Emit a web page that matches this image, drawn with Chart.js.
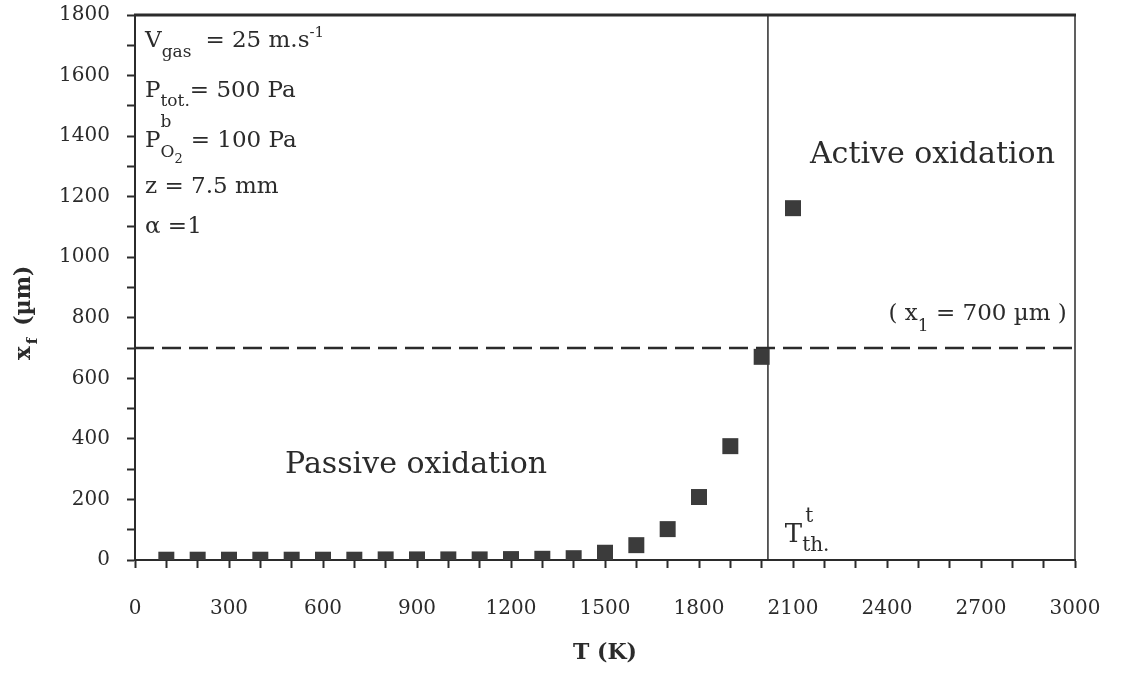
<!DOCTYPE html>
<html lang="en">
<head>
<meta charset="UTF-8">
<title>x_f vs T</title>
<script src="https://cdn.jsdelivr.net/npm/chart.js"></script>
<style>
    html, body { margin: 0; padding: 0; background: #fff; }
    .chart-box { width: 1121px; height: 673px; position: relative; }
</style>
</head>
<body>
<div class="chart-box"><canvas id="oxChart"></canvas></div>
<script>
// temperatures (K) and film thickness x_f (µm)
const temps = [100, 200, 300, 400, 500, 600, 700, 800, 900, 1000, 1100,
               1200, 1300, 1400, 1500, 1600, 1700, 1800, 1900, 2000, 2100];
const thickness = [1, 1, 1, 1, 1, 1, 1, 2, 2, 2, 2,
                   3, 4, 6, 24, 49, 102, 208, 376, 671, 1162];

const criticalX = 700;      // x_1 = 700 µm (dashed line)
const thresholdT = 2020;    // T_th (vertical line)

const xRange = [0, 3000];
const yRange = [0, 1800];
const xLabelEvery = 300;
const yLabelEvery = 200;

const INK = '#2b2b2b';
const SERIF = '"DejaVu Serif", "Liberation Serif", serif';

// draws text pieces one after another: {t, s, dy, dx, bold, adv}
function drawRuns(ctx, x, y, runs) {
    let cx = x;
    runs.forEach(r => {
        cx += r.dx || 0;
        ctx.font = (r.bold ? 'bold ' : '') + r.s + 'px ' + SERIF;
        ctx.fillText(r.t, cx, y + (r.dy || 0));
        if (r.adv !== false) cx += ctx.measureText(r.t).width;
    });
}

// text notes anchored in data coordinates
const notes = [
    { T: 32, v: 1694, runs: [{ t: 'V', s: 23 }, { t: 'gas', s: 17, dy: 10 }, { t: '= 25 m.s', s: 23, dx: 14 }, { t: '-1', s: 15, dy: -10 }] },
    { T: 32, v: 1529, runs: [{ t: 'P', s: 23 }, { t: 'tot.', s: 17, dy: 9 }, { t: '= 500 Pa', s: 23, dx: 0 }] },
    { T: 32, v: 1364, runs: [{ t: 'P', s: 23 }, { t: 'b', s: 17, dy: -20, adv: false }, { t: 'O', s: 17, dy: 10 }, { t: '2', s: 13, dy: 16 }, { t: '= 100 Pa', s: 23, dx: 8 }] },
    { T: 32, v: 1212, runs: [{ t: 'z = 7.5 mm', s: 23 }] },
    { T: 32, v: 1080, runs: [{ t: 'α =1', s: 23 }] },
    { T: 2154, v: 1311, runs: [{ t: 'Active oxidation', s: 30 }] },
    { T: 479, v: 287, runs: [{ t: 'Passive oxidation', s: 30 }] },
    { T: 2405, v: 793, runs: [{ t: '( x', s: 23 }, { t: '1', s: 17, dy: 11 }, { t: ' = 700 µm )', s: 23 }] },
    { T: 2074, v: 59, runs: [{ t: 'T', s: 26 }, { t: 't', s: 20, dy: -20, adv: false, dx: 3 }, { t: 'th.', s: 20, dy: 9, dx: -3 }] }
];

const notesPlugin = {
    id: 'notes',
    afterDraw(chart) {
        const { ctx, chartArea: a, scales } = chart;
        ctx.save();
        ctx.strokeStyle = INK;
        // top and right frame
        ctx.lineWidth = 3;
        ctx.beginPath(); ctx.moveTo(a.left - 1, a.top); ctx.lineTo(a.right + 1, a.top); ctx.stroke();
        ctx.lineWidth = 1.5;
        ctx.beginPath(); ctx.moveTo(a.right, a.top); ctx.lineTo(a.right, a.bottom); ctx.stroke();

        ctx.fillStyle = INK;
        ctx.textBaseline = 'alphabetic';
        ctx.textAlign = 'left';
        notes.forEach(n => {
            drawRuns(ctx, scales.x.getPixelForValue(n.T), scales.y.getPixelForValue(n.v), n.runs);
        });

        // y title with subscript, rotated
        ctx.translate(30, scales.y.getPixelForValue(yRange[0]) - 200);
        ctx.rotate(-Math.PI / 2);
        drawRuns(ctx, 0, 0, [{ t: 'x', s: 23, bold: true }, { t: 'f', s: 15, bold: true, dy: 7, dx: 2 }, { t: '(µm)', s: 22, bold: true, dx: 12 }]);
        ctx.restore();
    }
};

const ctx = document.getElementById('oxChart').getContext('2d');
new Chart(ctx, {
    type: 'scatter',
    data: {
        datasets: [
            {
                label: 'x_f',
                data: temps.map((t, i) => ({ x: t, y: thickness[i] })),
                pointStyle: 'rect',
                pointRadius: 11.3,
                backgroundColor: '#3b3b3b',
                borderColor: '#3b3b3b',
                borderWidth: 0,
                order: 0
            },
            {
                label: 'x_1',
                type: 'line',
                data: [{ x: xRange[0], y: criticalX }, { x: xRange[1], y: criticalX }],
                borderColor: INK,
                borderWidth: 2.5,
                borderDash: [19, 8],
                pointRadius: 0,
                order: 1
            },
            {
                label: 'T_th',
                type: 'line',
                data: [{ x: thresholdT, y: yRange[0] }, { x: thresholdT, y: yRange[1] }],
                borderColor: INK,
                borderWidth: 1.5,
                pointRadius: 0,
                order: 1
            }
        ]
    },
    options: {
        responsive: true,
        maintainAspectRatio: false,
        animation: false,
        layout: { padding: { top: 15, right: 46, left: 0, bottom: 0 } },
        plugins: { legend: { display: false }, tooltip: { enabled: false } },
        scales: {
            x: {
                type: 'linear',
                min: xRange[0],
                max: xRange[1],
                afterFit(scale) {
                    scale.height = 113;
                    scale.paddingLeft = 0;
                    scale.paddingRight = 0;
                },
                grid: { drawOnChartArea: false, drawTicks: true, tickLength: 8, tickColor: INK, tickWidth: 2 },
                border: { display: true, color: INK, width: 2 },
                ticks: {
                    stepSize: 100,
                    autoSkip: false,
                    maxRotation: 0,
                    padding: 29,
                    color: INK,
                    font: { family: SERIF, size: 20 },
                    callback: v => (v % xLabelEvery === 0 ? String(v) : '')
                },
                title: {
                    display: true,
                    text: 'T (K)',
                    color: INK,
                    font: { family: SERIF, size: 22, weight: 'bold' },
                    padding: { top: 0, bottom: 7 }
                }
            },
            y: {
                type: 'linear',
                min: yRange[0],
                max: yRange[1],
                afterFit(scale) {
                    scale.width = 135;
                    scale.paddingTop = 0;
                    scale.paddingBottom = 0;
                },
                grid: { drawOnChartArea: false, drawTicks: true, tickLength: 8, tickColor: INK, tickWidth: 2 },
                border: { display: true, color: INK, width: 2 },
                ticks: {
                    stepSize: 100,
                    autoSkip: false,
                    padding: 17,
                    color: INK,
                    font: { family: SERIF, size: 20 },
                    callback: v => (v % yLabelEvery === 0 ? String(v) : '')
                }
            }
        }
    },
    plugins: [notesPlugin]
});
</script>
</body>
</html>
